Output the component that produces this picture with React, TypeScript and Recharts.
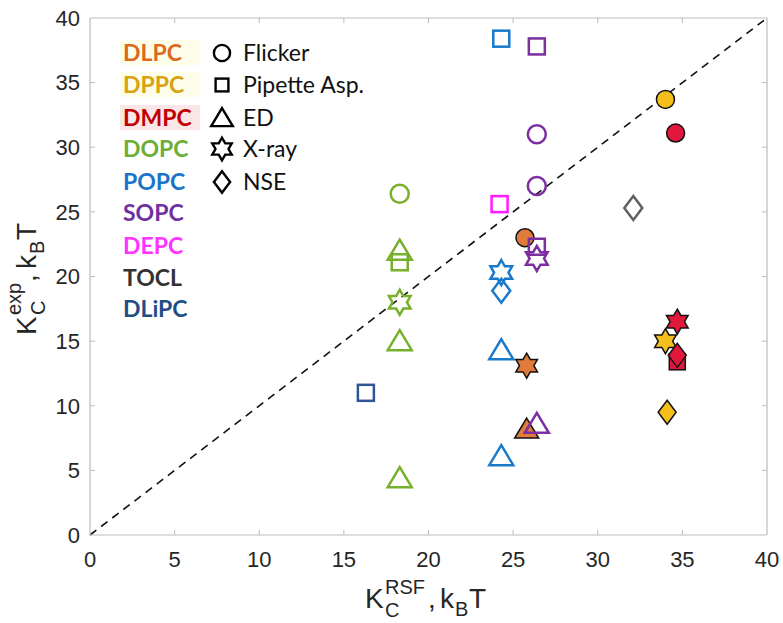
import React from 'react';
import { ScatterChart, Scatter, XAxis, YAxis, ReferenceLine } from 'recharts';

// ---- data (x = K_C^RSF, y = K_C^exp, both in k_B T) ----
const DLPC = [
  { x: 25.7, y: 23.0, method: 'Flicker' },
  { x: 25.8, y: 13.1, method: 'X-ray' },
  { x: 25.8, y: 8.2, method: 'ED' },
];
const DPPC = [
  { x: 34.0, y: 33.7, method: 'Flicker' },
  { x: 34.0, y: 15.0, method: 'X-ray' },
  { x: 34.1, y: 9.5, method: 'NSE' },
];
const DMPC = [
  { x: 34.6, y: 31.1, method: 'Flicker' },
  { x: 34.7, y: 16.5, method: 'X-ray' },
  { x: 34.7, y: 13.4, method: 'Pipette' },
  { x: 34.7, y: 13.9, method: 'NSE' },
];
const DOPC = [
  { x: 18.3, y: 26.4, method: 'Flicker' },
  { x: 18.3, y: 22.0, method: 'ED' },
  { x: 18.3, y: 21.1, method: 'Pipette' },
  { x: 18.3, y: 18.0, method: 'X-ray' },
  { x: 18.3, y: 15.0, method: 'ED' },
  { x: 18.3, y: 4.4, method: 'ED' },
];
const POPC = [
  { x: 24.3, y: 38.4, method: 'Pipette' },
  { x: 24.3, y: 20.3, method: 'X-ray' },
  { x: 24.3, y: 18.9, method: 'NSE' },
  { x: 24.3, y: 14.3, method: 'ED' },
  { x: 24.3, y: 6.1, method: 'ED' },
];
const SOPC = [
  { x: 26.4, y: 37.8, method: 'Pipette' },
  { x: 26.4, y: 31.0, method: 'Flicker' },
  { x: 26.4, y: 27.0, method: 'Flicker' },
  { x: 26.4, y: 22.3, method: 'Pipette' },
  { x: 26.4, y: 21.4, method: 'X-ray' },
  { x: 26.4, y: 8.6, method: 'ED' },
];
const DEPC = [{ x: 24.2, y: 25.6, method: 'Pipette' }];
const TOCL = [{ x: 32.1, y: 25.3, method: 'NSE' }];
const DLiPC = [{ x: 16.3, y: 11.0, method: 'Pipette' }];

const xTicks = [0, 5, 10, 15, 20, 25, 30, 35, 40];
const yTicks = [0, 5, 10, 15, 20, 25, 30, 35, 40];
const diagonal = [{ x: 0, y: 0 }, { x: 40, y: 40 }];

const lipidLegend = ['DLPC', 'DPPC', 'DMPC', 'DOPC', 'POPC', 'SOPC', 'DEPC', 'TOCL', 'DLiPC'];
const methodLegend = ['Flicker', 'Pipette Asp.', 'ED', 'X-ray', 'NSE'];
const methodKeys = ['Flicker', 'Pipette', 'ED', 'X-ray', 'NSE'];

// ---- styles ----
const textColors: Record<string, string> = {
  DLPC: '#DA6A1E',
  DPPC: '#D9A20E',
  DMPC: '#C00000',
  DOPC: '#6DAE36',
  POPC: '#1A74C9',
  SOPC: '#7030A0',
  DEPC: '#FF33FF',
  TOCL: '#333333',
  DLiPC: '#1F4E85',
};
const legendBg: Record<string, string> = {
  DLPC: '#FEFDEA',
  DPPC: '#FEFDEA',
  DMPC: '#FBE6E7',
};

type Style = { stroke: string; fill: string; sw: number };

function Marker({ method, cx, cy, st, s = 1 }: { method: string; cx: number; cy: number; st: Style; s?: number }) {
  const common = { stroke: st.stroke, fill: st.fill, strokeWidth: st.sw, strokeLinejoin: 'miter' as const };
  if (method === 'Flicker') {
    return <circle cx={cx} cy={cy} r={9 * s} {...common} />;
  }
  if (method === 'Pipette') {
    const h = 8 * s;
    return <rect x={cx - h} y={cy - h} width={2 * h} height={2 * h} {...common} />;
  }
  if (method === 'ED') {
    const w = 12 * s;
    const d = `M${cx},${cy - 11 * s} L${cx + w},${cy + 9 * s} L${cx - w},${cy + 9 * s} Z`;
    return <path d={d} {...common} />;
  }
  if (method === 'NSE') {
    const d = `M${cx},${cy - 12 * s} L${cx + 9 * s},${cy} L${cx},${cy + 12 * s} L${cx - 9 * s},${cy} Z`;
    return <path d={d} {...common} />;
  }
  // X-ray: hexagram
  const R = 12.5 * s;
  const r = R / Math.sqrt(3);
  const pts: string[] = [];
  for (let k = 0; k < 12; k++) {
    const ang = ((-90 + k * 30) * Math.PI) / 180;
    const rad = k % 2 === 0 ? R : r;
    pts.push(`${(cx + rad * Math.cos(ang)).toFixed(2)},${(cy + rad * Math.sin(ang)).toFixed(2)}`);
  }
  return <polygon points={pts.join(' ')} {...common} />;
}

const makeShape = (st: Style) => (props: any) => {
  const { cx, cy, payload } = props;
  if (cx == null || cy == null) return <g />;
  return <Marker method={payload.method} cx={cx} cy={cy} st={st} />;
};

const openStyle = (c: string): Style => ({ stroke: c, fill: 'none', sw: 2.5 });
const filledStyle = (c: string): Style => ({ stroke: '#111111', fill: c, sw: 1.5 });

const series: { name: string; data: any[]; st: Style }[] = [
  { name: 'DOPC', data: DOPC, st: openStyle('#77B02A') },
  { name: 'DLiPC', data: DLiPC, st: openStyle('#2F5597') },
  { name: 'POPC', data: POPC, st: openStyle('#1A7AC9') },
  { name: 'DEPC', data: DEPC, st: openStyle('#FF1AFF') },
  { name: 'DLPC', data: DLPC, st: filledStyle('#E07B3C') },
  { name: 'SOPC', data: SOPC, st: openStyle('#7B2FA0') },
  { name: 'TOCL', data: TOCL, st: openStyle('#5F5F5F') },
  { name: 'DPPC', data: DPPC, st: filledStyle('#F4BE1C') },
  { name: 'DMPC', data: DMPC, st: filledStyle('#E2173C') },
];

const AXIS_GRAY = '#BDBDBD';
const TICK_FONT = { fontFamily: 'Liberation Sans, Arial, sans-serif', fontSize: 22, fill: '#262626' };

function Overlay() {
  const legendFont = 'Lato, Calibri, sans-serif';
  const rowY = [53, 85, 118, 149, 182, 213, 246, 278, 309];
  const axFont = 'Liberation Sans, Arial, sans-serif';
  return (
    <svg
      width={783}
      height={623}
      style={{ position: 'absolute', left: 0, top: 0, pointerEvents: 'none' }}
    >
      {/* lipid legend */}
      {lipidLegend.map((name, i) => (
        <g key={name}>
          {legendBg[name] && (
            <rect x={120} y={rowY[i] - 13} width={80} height={25} fill={legendBg[name]} />
          )}
          <text
            x={123}
            y={rowY[i] + 8}
            fontFamily={legendFont}
            fontWeight={700}
            fontSize={23}
            fill={textColors[name]}
          >
            {name}
          </text>
        </g>
      ))}
      {/* method legend */}
      {methodLegend.map((label, i) => (
        <g key={label}>
          <Marker
            method={methodKeys[i]}
            cx={222}
            cy={rowY[i]}
            st={{ stroke: '#000', fill: 'none', sw: 2.4 }}
            s={methodKeys[i] === 'Pipette' ? 0.8 : 0.9}
          />
          <text x={243} y={rowY[i] + 8} fontFamily={legendFont} fontSize={23} fill="#111">
            {label}
          </text>
        </g>
      ))}
      {/* x axis title */}
      <g fontFamily={axFont} fill="#262626">
        <text x={365} y={608} fontSize={28}>K</text>
        <text x={385} y={594} fontSize={20}>RSF</text>
        <text x={385} y={617} fontSize={20}>C</text>
        <text x={428} y={608} fontSize={28}>,</text>
        <text x={440} y={608} fontSize={28}>k</text>
        <text x={455} y={616} fontSize={20}>B</text>
        <text x={469} y={608} fontSize={28}>T</text>
      </g>
      {/* y axis title */}
      <g fontFamily={axFont} fill="#262626" transform="translate(36,335) rotate(-90)">
        <text x={0} y={0} fontSize={28}>K</text>
        <text x={20} y={-15} fontSize={20}>exp</text>
        <text x={20} y={9} fontSize={20}>C</text>
        <text x={53} y={0} fontSize={28}>,</text>
        <text x={66} y={0} fontSize={28}>k</text>
        <text x={81} y={8} fontSize={20}>B</text>
        <text x={95} y={0} fontSize={28}>T</text>
      </g>
    </svg>
  );
}

export default function App() {
  return (
    <div style={{ position: 'absolute', left: 0, top: 0, width: 783, height: 623, background: '#fff' }}>
      <ScatterChart width={783} height={623} margin={{ top: 18, right: 16, bottom: 0, left: 0 }}>
        <XAxis
          type="number"
          dataKey="x"
          domain={[0, 40]}
          ticks={xTicks}
          height={88}
          tickLine={false}
          tickSize={0}
          tickMargin={16}
          axisLine={{ stroke: AXIS_GRAY, strokeWidth: 1.2 }}
          tick={TICK_FONT}
          allowDataOverflow
        />
        <YAxis
          type="number"
          dataKey="y"
          domain={[0, 40]}
          ticks={yTicks}
          width={90}
          tickLine={false}
          tickSize={0}
          tickMargin={10}
          axisLine={{ stroke: AXIS_GRAY, strokeWidth: 1.2 }}
          tick={TICK_FONT}
          allowDataOverflow
        />
        <ReferenceLine x={40} stroke={AXIS_GRAY} strokeWidth={1.2} />
        <ReferenceLine y={40} stroke={AXIS_GRAY} strokeWidth={1.2} />
        {xTicks.slice(1, -1).map((t) => (
          <ReferenceLine key={`xb${t}`} segment={[{ x: t, y: 0 }, { x: t, y: 0.4 }]} stroke={AXIS_GRAY} />
        ))}
        {xTicks.slice(1, -1).map((t) => (
          <ReferenceLine key={`xt${t}`} segment={[{ x: t, y: 40 }, { x: t, y: 39.6 }]} stroke={AXIS_GRAY} />
        ))}
        {yTicks.slice(1, -1).map((t) => (
          <ReferenceLine key={`yl${t}`} segment={[{ x: 0, y: t }, { x: 0.3, y: t }]} stroke={AXIS_GRAY} />
        ))}
        {yTicks.slice(1, -1).map((t) => (
          <ReferenceLine key={`yr${t}`} segment={[{ x: 40, y: t }, { x: 39.7, y: t }]} stroke={AXIS_GRAY} />
        ))}
        <ReferenceLine segment={diagonal} stroke="#111" strokeWidth={1.6} strokeDasharray="8 6" />
        {series.map((s) => (
          <Scatter
            key={s.name}
            name={s.name}
            data={s.data}
            shape={makeShape(s.st)}
            isAnimationActive={false}
          />
        ))}
      </ScatterChart>
      <Overlay />
    </div>
  );
}
